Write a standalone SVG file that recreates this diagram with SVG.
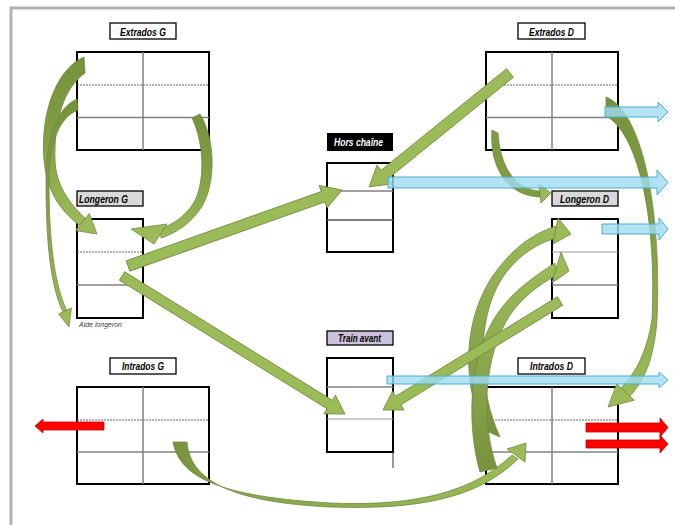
<svg xmlns="http://www.w3.org/2000/svg" width="675" height="525" viewBox="0 0 675 525">
<style>
.lbl{font-family:"Liberation Sans Narrow","Liberation Sans",Arial,sans-serif;font-size:11px;font-weight:bold;font-style:italic;fill:#000}
.box{stroke:#000;stroke-width:1.3}
.tbl{fill:#fff;stroke:#000;stroke-width:2}
.vl{stroke:#808080;stroke-width:1.5}
.hd{stroke:#666;stroke-width:1;stroke-dasharray:2,1}
.hs{stroke:#808080;stroke-width:1.6}
.g{fill:#9bbb59;stroke:#71893f;stroke-width:0.8}
.blue{fill:#9fdcf2;fill-opacity:0.8;stroke:#4bacc6;stroke-width:1}
.red{fill:#ff0000;stroke:#c00000;stroke-width:0.8}
</style>
<defs>
<linearGradient id="gDown" x1="0" y1="0" x2="0" y2="1"><stop offset="0" stop-color="#76923c"/><stop offset="0.4" stop-color="#7f9c43"/><stop offset="1" stop-color="#9bbb59"/></linearGradient>
<linearGradient id="gUp" x1="0" y1="1" x2="0" y2="0"><stop offset="0" stop-color="#76923c"/><stop offset="0.35" stop-color="#84a148"/><stop offset="1" stop-color="#9bbb59"/></linearGradient>
<linearGradient id="gRight" x1="0" y1="0" x2="1" y2="0"><stop offset="0" stop-color="#76923c"/><stop offset="0.15" stop-color="#86a34a"/><stop offset="1" stop-color="#9bbb59"/></linearGradient>
</defs>
<rect width="675" height="525" fill="#fff"/>
<g id="frame" fill="none" stroke="#b3b3b3" stroke-width="3">
<path d="M11,525 V8 H675"/>
</g>
<g id="extrados-g">
<rect class="box" x="110" y="23" width="66" height="16" fill="#fff"/>
<text class="lbl" x="120" y="36" textLength="46" lengthAdjust="spacingAndGlyphs">Extrados G</text>
<rect class="tbl" x="77" y="52" width="132" height="98"/>
<line class="vl" x1="143" y1="52" x2="143" y2="150"/>
<line class="hd" x1="77" y1="85" x2="209" y2="85"/>
<line class="hs" x1="77" y1="117.5" x2="209" y2="117.5"/>
</g>
<g id="longeron-g">
<rect class="box" x="77" y="191" width="66" height="15" fill="#d9d9d9"/>
<text class="lbl" x="79" y="203" textLength="49" lengthAdjust="spacingAndGlyphs">Longeron G</text>
<rect class="tbl" x="77" y="219" width="66" height="99"/>
<line class="hd" x1="77" y1="252" x2="143" y2="252"/>
<line class="hs" x1="77" y1="285" x2="143" y2="285"/>
<text x="79" y="327" font-family="'Liberation Sans Narrow','Liberation Sans',Arial,sans-serif" font-size="7.5" font-style="italic" fill="#404040" textLength="43" lengthAdjust="spacingAndGlyphs">Aide longeron</text>
</g>
<g id="intrados-g">
<rect class="box" x="110" y="358" width="66" height="16" fill="#fff"/>
<text class="lbl" x="122" y="370" textLength="42" lengthAdjust="spacingAndGlyphs">Intrados G</text>
<rect class="tbl" x="77" y="387" width="132" height="97"/>
<line class="vl" x1="143" y1="387" x2="143" y2="484"/>
<line class="hd" x1="77" y1="420" x2="209" y2="420"/>
<line class="hs" x1="77" y1="452" x2="209" y2="452"/>
</g>
<g id="hors-chaine">
<rect x="327" y="133" width="66" height="18" fill="#000"/>
<text class="lbl" x="334" y="146" fill="#fff" style="fill:#fff" textLength="49" lengthAdjust="spacingAndGlyphs">Hors chaîne</text>
<rect class="tbl" x="327" y="163" width="66" height="89"/>
<line class="hs" x1="327" y1="191" x2="393" y2="191"/>
<line x1="327" y1="220" x2="393" y2="220" stroke="#555" stroke-width="1.4"/>
</g>
<g id="train-avant">
<rect class="box" x="327" y="331" width="66" height="14" fill="#ccc0da"/>
<text class="lbl" x="338" y="342" textLength="43" lengthAdjust="spacingAndGlyphs">Train avant</text>
<rect class="tbl" x="327" y="358" width="66" height="94"/>
<line x1="393" y1="452" x2="393" y2="468" stroke="#333" stroke-width="1"/>
<line class="hs" x1="327" y1="387" x2="393" y2="387"/>
<line x1="327" y1="419" x2="393" y2="419" stroke="#999" stroke-width="1.2"/>
</g>
<g id="extrados-d">
<rect class="box" x="518" y="23" width="67" height="16" fill="#fff"/>
<text class="lbl" x="529" y="36" textLength="45" lengthAdjust="spacingAndGlyphs">Extrados D</text>
<rect class="tbl" x="486" y="52" width="132" height="98"/>
<line class="vl" x1="552" y1="52" x2="552" y2="150"/>
<line class="hd" x1="486" y1="85" x2="618" y2="85"/>
<line class="hs" x1="486" y1="117.5" x2="618" y2="117.5"/>
</g>
<g id="longeron-d">
<rect class="box" x="552" y="191" width="66" height="15" fill="#d9d9d9"/>
<text class="lbl" x="560" y="203" textLength="49" lengthAdjust="spacingAndGlyphs">Longeron D</text>
<rect class="tbl" x="552" y="219" width="66" height="99"/>
<line x1="552" y1="252" x2="618" y2="252" stroke="#999" stroke-width="1.2"/>
<line class="hs" x1="552" y1="285" x2="618" y2="285"/>
</g>
<g id="intrados-d">
<rect class="box" x="518" y="358" width="67" height="16" fill="#fff"/>
<text class="lbl" x="530" y="370" textLength="43" lengthAdjust="spacingAndGlyphs">Intrados D</text>
<rect class="tbl" x="486" y="387" width="132" height="97"/>
<line class="vl" x1="552" y1="387" x2="552" y2="484"/>
<line class="hd" x1="486" y1="420" x2="618" y2="420"/>
<line class="hs" x1="486" y1="452" x2="618" y2="452"/>
</g>
<g id="connectors">
<polygon class="red" points="104,422 43,422 43,419 35,426 43,433 43,430 104,430"/>
<polygon class="red" points="586,423 660,423 660,418 668,427.5 660,437 660,432 586,432"/>
<polygon class="red" points="586,440 660,440 660,435 668,444 660,453 660,448 586,448"/>
<path class="g" style="fill:url(#gRight)" d="M173,442 C180,482 232,497 330,503 C420,507 475,490 512,455 L518,459 C478,498 420,510 330,507 C226,502 190,478 187,442 Z"/>
<polygon class="g" points="526,443 525,462 507,449"/>
<path class="g" style="fill:url(#gUp)" d="M484,430 C465,390 460,330 490,280 C510,250 530,235 556,226 L556,238 C535,244 515,258 501,280 C476,320 478,390 500,437 Z"/>
<polygon class="g" points="571,234 558,218 553,244"/>
<path class="g" style="fill:url(#gUp)" d="M480,472 C465,420 470,350 500,310 C515,290 532,278 555,263 L557,275 C538,285 522,298 510,315 C484,355 480,420 497,468 Z"/>
<polygon class="g" points="569,271 561,252 552,283"/>
<g class="g">
<polygon transform="translate(510,73) rotate(141.04)" points="0,-5.5 161.3,-5.5 161.3,-12 181.3,0 161.3,12 161.3,5.5 0,5.5"/>
<polygon transform="translate(128,266) rotate(-19.55)" points="0,-5.5 207.1,-5.5 207.1,-12 227.1,0 207.1,12 207.1,5.5 0,5.5"/>
<polygon transform="translate(122,276) rotate(31.75)" points="0,-5 244.2,-5 244.2,-11 262.2,0 244.2,11 244.2,5 0,5"/>
<polygon transform="translate(560,301) rotate(148.38)" points="0,-5 189.9,-5 189.9,-11 207.9,0 189.9,11 189.9,5 0,5"/>
</g>
<path class="g" style="fill:url(#gDown)" d="M84,57 C58,68 40,110 44,160 C47,192 60,210 79,225 L86,219 C70,204 56,186 55,160 C54,120 64,88 85,73 Z"/>
<polygon class="g" points="97,234 89.3,213.4 75.7,230.6"/>
<path class="g" style="fill:url(#gDown)" d="M77,99 C56,108 46,140 46,180 C46,240 50,285 63,312 L66.5,310 C54,283 49,240 49,180 C49,142 60,117 78,110 Z"/>
<polygon class="g" points="69,327 58.7,314 71.3,308"/>
<path class="g" style="fill:url(#gDown)" d="M200,114 C216,140 216,185 201,208 C190,224 176,233 161,238 L160,229 C172,225 184,217 193,204 C205,185 205,145 192,118 Z"/>
<polygon class="g" points="131,229 167,224 154,244"/>
<path class="g" style="fill:#7f9c43" d="M492,130 C489,168 508,196 540,197 L540,191 C514,190 500,165 498,133 Z"/>
<polygon class="g" points="551,193 539,184 541,203"/>
<path class="g" style="fill:url(#gDown)" d="M606,97 C640,110 662,200 657,320 C654,358 645,380 630,396 L621,388 C637,372 647,350 652,320 C657,210 636,132 606,116 Z"/>
<polygon class="g" points="608,407 616.7,383.8 634.3,400.2"/>
<polygon class="blue" points="605,107 658,107 658,102 668,112 658,122 658,117 605,117"/>
<polygon class="blue" points="388,177 657,177 657,170 668,182.5 657,195 657,188 388,188"/>
<polygon class="blue" points="602,224 659,224 659,218 668,229 659,240 659,234 602,234"/>
<polygon class="blue" points="387,376 659,376 659,372 668,380 659,388 659,384 387,384"/>
</g>
</svg>
